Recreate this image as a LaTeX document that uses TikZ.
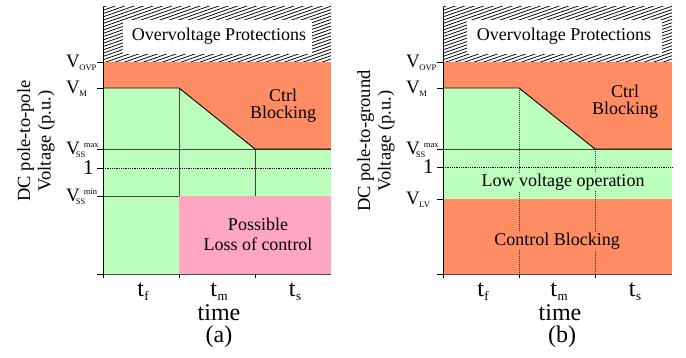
\documentclass[tikz,border=0pt]{standalone}
\usepackage{fontspec}
\setmainfont{Liberation Serif}
\definecolor{cOrange}{RGB}{255,140,98}
\definecolor{cGreen}{RGB}{188,255,188}
\definecolor{cPink}{RGB}{255,166,194}
\definecolor{cGrid}{RGB}{60,70,60}
\newcommand{\fsz}[1]{\fontsize{#1}{#1}\selectfont}
\newcommand{\Vlab}[1]{V\kern-0.5pt\raisebox{-2.5pt}{\fsz{8.5}#1}}
\newcommand{\Vss}[1]{V\kern-4pt\rlap{\raisebox{-3pt}{\fsz{8.5}SS}}\kern8pt\raisebox{7pt}{\fsz{8.5}#1}}
\newcommand{\tlab}[1]{t\kern0.5pt\raisebox{-3.5pt}{\fsz{13}#1}}
\tikzset{
  lab/.style={font=\fsz{19}, anchor=base west, inner sep=0pt},
  region/.style={font=\fsz{18}, align=center, inner sep=1pt},
  tlabel/.style={font=\fsz{24}, anchor=base, inner sep=0pt},
  ylab/.style={font=\fsz{18.5}, rotate=90, align=center},
  grid/.style={cGrid, line width=0.6pt},
  dotl/.style={black, line width=0.7pt, dash pattern=on 0.9pt off 0.9pt},
  vdot/.style={black!80, line width=0.6pt, dash pattern=on 0.9pt off 1.1pt},
  curve/.style={black, line width=0.9pt},
  axis/.style={black, line width=0.9pt},
  hatchl/.style={black, line width=0.75pt},
}
\begin{document}
\begin{tikzpicture}[x=1pt,y=-1pt]
\useasboundingbox (0,0) rectangle (686,358);

% ================= Panel (a) =================
\begin{scope}
  \clip (103,7) rectangle (331,62);
  \foreach \i in {0,...,46} \draw[hatchl] (103,{7+\i*3.3}) -- ++(228,-80);
\end{scope}
\fill[white] (123,20) rectangle (312,54);
\node[region] (ova) at (219,36) {Overvoltage Protections};
\fill[cOrange] (103,62) rectangle (331,274);
\fill[cGreen] (103,88) -- (179,88) -- (255,149) -- (331,149) -- (331,196) -- (179,196) -- (179,274) -- (103,274) -- cycle;
\fill[cPink] (179,196) rectangle (331,274);
\draw[grid] (103,149) -- (331,149);
\draw[grid] (103,196) -- (179,196);
\draw[grid] (179,88) -- (179,196);
\draw[grid] (255,149) -- (255,196);
\draw[dotl] (103,168) -- (331,168);
\draw[curve] (103,88) -- (179,88) -- (255,149) -- (331,149);
\draw[axis] (103,7) -- (103,274);
\draw[black!70, line width=0.7pt] (99,274) -- (331,274);
\foreach \y in {62,88,149,168,196,274} \draw[axis] (97,\y) -- (103,\y);
\foreach \x in {103,179,255} \draw[axis] (\x,274) -- (\x,278);
\node[region] (cba) at (283,106) {Ctrl\\[-1pt]Blocking};
\node[region, fill=cPink] (loc) at (258,234) {Possible\\[2pt]Loss of control};
\node[lab] (vovpa) at (66,68) {\Vlab{OVP}};
\node[lab] (vma) at (66,94) {\Vlab{M}};
\node[lab] (vmaxa) at (66,154.5) {\Vss{max}};
\node[lab, font=\fsz{21}] (onea) at (83,175) {1};
\node[lab] (vmina) at (66,201.5) {\Vss{min}};
\node[ylab] (yla) at (36,141) {DC pole-to-pole\\[2pt]Voltage (p.u.)};
\node[tlabel] (tfa) at (143,297) {\tlab{f}};
\node[tlabel] (tma) at (219,297) {\tlab{m}};
\node[tlabel] (tsa) at (295,297) {\tlab{s}};
\node[tlabel] (tima) at (219,321) {time};
\node[tlabel] (capa) at (219,343) {(a)};

% ================= Panel (b) =================
\begin{scope}
  \clip (443,7) rectangle (672,62);
  \foreach \i in {0,...,46} \draw[hatchl] (443,{7+\i*3.3}) -- ++(229,-80);
\end{scope}
\fill[white] (467,20) rectangle (662,54);
\node[region] (ovb) at (564,36) {Overvoltage Protections};
\fill[cOrange] (443,62) rectangle (672,274);
\fill[cGreen] (443,88) -- (519,88) -- (595,149) -- (672,149) -- (672,199) -- (443,199) -- cycle;
\draw[grid] (443,149) -- (672,149);
\draw[vdot] (519,88) -- (519,274);
\draw[vdot] (595,149) -- (595,274);
\draw[dotl] (443,167) -- (672,167);
\draw[curve] (443,88) -- (519,88) -- (595,149) -- (672,149);
\node[region, fill=cGreen, inner sep=0.5pt] (lvo) at (563,182) {Low voltage operation};
\node[region, fill=cOrange, inner sep=0.5pt] (cbl) at (557,241) {Control Blocking};
\node[region] (cbb) at (625,102) {Ctrl\\[-1pt]Blocking};
\draw[axis] (443,7) -- (443,274);
\draw[black!70, line width=0.7pt] (439,274) -- (672,274);
\foreach \y in {62,88,149,167,199,274} \draw[axis] (437,\y) -- (443,\y);
\foreach \x in {443,519,595} \draw[axis] (\x,274) -- (\x,278);
\node[lab] (vovpb) at (406,68) {\Vlab{OVP}};
\node[lab] (vmb) at (406,94) {\Vlab{M}};
\node[lab] (vmaxb) at (406,154.5) {\Vss{max}};
\node[lab, font=\fsz{21}] (oneb) at (423,174) {1};
\node[lab] (vlvb) at (406,205) {\Vlab{LV}};
\node[ylab] (ylb) at (376,141) {DC pole-to-ground\\[2pt]Voltage (p.u.)};
\node[tlabel] (tfb) at (483,297) {\tlab{f}};
\node[tlabel] (tmb) at (559,297) {\tlab{m}};
\node[tlabel] (tsb) at (635,297) {\tlab{s}};
\node[tlabel] (timb) at (560,321) {time};
\node[tlabel] (capb) at (562,343) {(b)};
\end{tikzpicture}
\end{document}
